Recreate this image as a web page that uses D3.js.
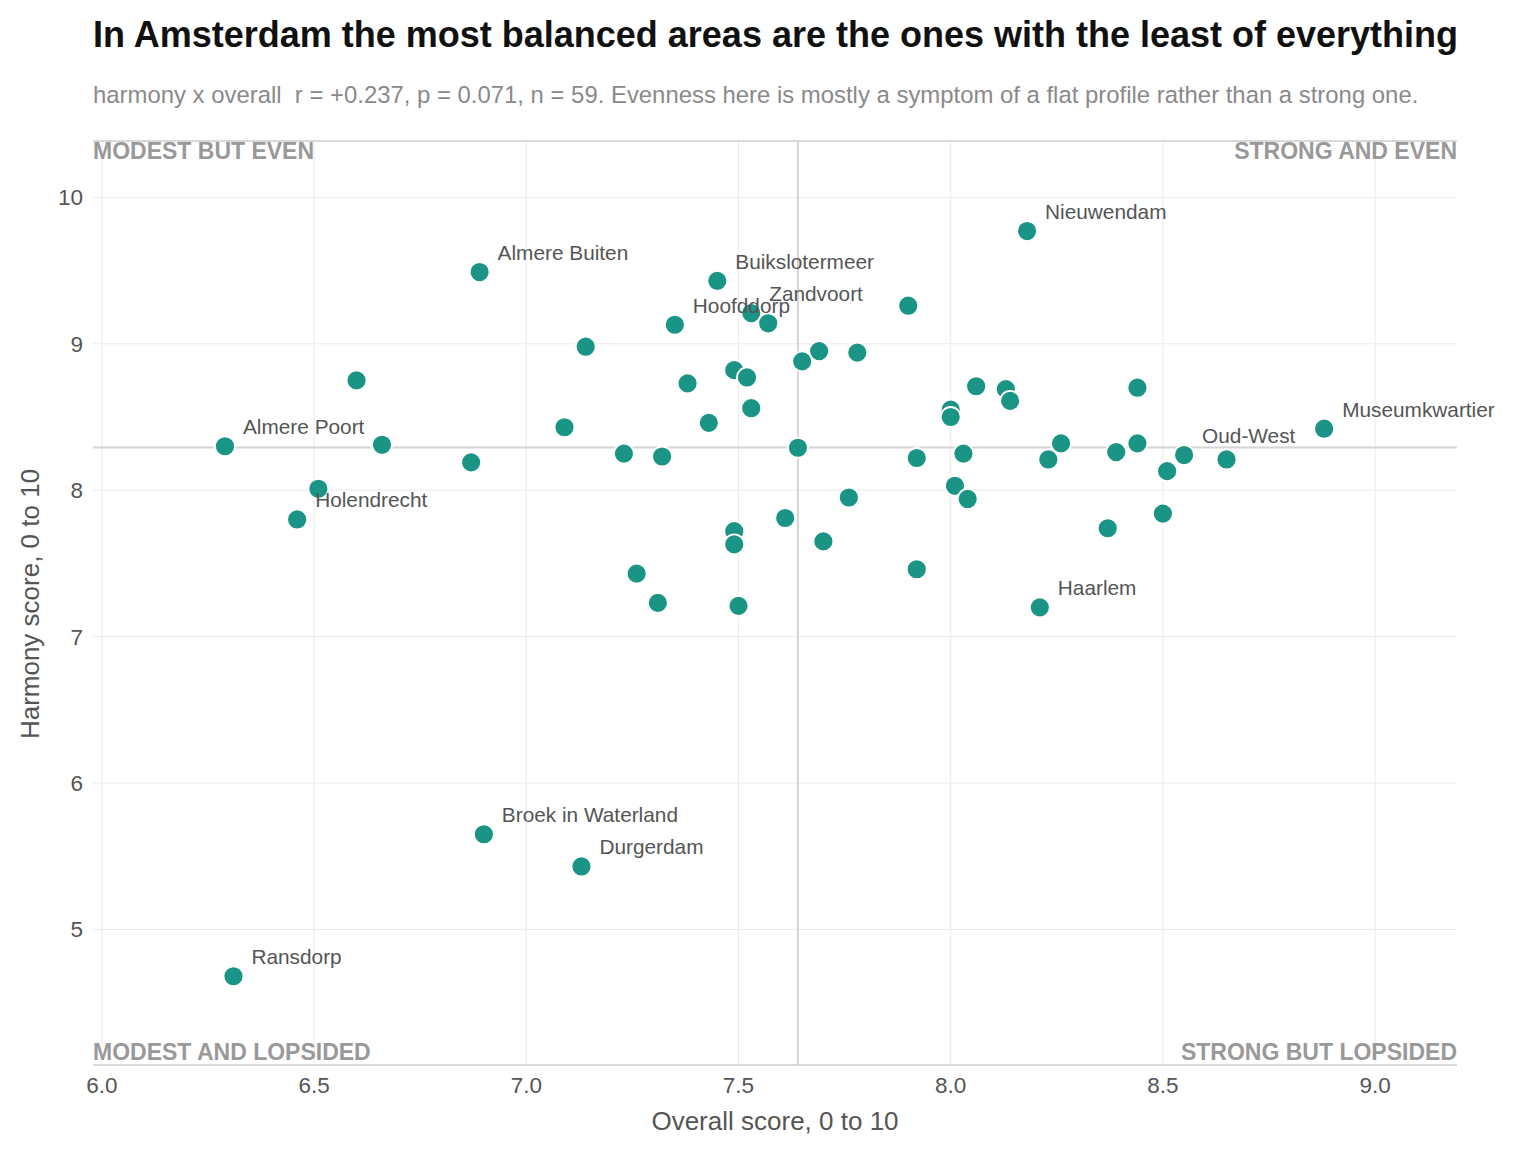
<!DOCTYPE html>
<html><head><meta charset="utf-8">
<script src="https://cdn.jsdelivr.net/npm/d3@7"></script>
<style>body{margin:0;background:#fff;font-family:"Liberation Sans",Arial,sans-serif}</style>
</head><body><svg id="c" width="1516" height="1154"></svg>
<script>
const names=["Nieuwendam","Almere Buiten","Buikslotermeer","","Zandvoort","Hoofddorp","","","","","","","","","","","","","","","","","Museumkwartier","","","Almere Poort","","","","","","","","","","","","Oud-West","","","","Holendrecht","","","","","","","","","","","","","","Haarlem","Broek in Waterland","Durgerdam","Ransdorp"];
const overall=[8.18,6.89,7.45,7.90,7.53,7.35,7.57,7.14,7.69,7.78,7.65,6.60,7.38,7.49,7.52,7.53,8.06,8.13,8.14,8.44,8.00,8.00,8.88,7.09,7.43,6.29,6.66,7.23,7.32,7.64,6.87,7.92,8.03,8.26,8.23,8.39,8.44,8.55,8.51,8.65,6.51,6.46,8.01,8.04,7.76,8.50,8.37,7.61,7.49,7.49,7.70,7.26,7.92,7.31,7.50,8.21,6.90,7.13,6.31];
const harmony=[9.77,9.49,9.43,9.26,9.21,9.13,9.14,8.98,8.95,8.94,8.88,8.75,8.73,8.82,8.77,8.56,8.71,8.69,8.61,8.70,8.55,8.50,8.42,8.43,8.46,8.30,8.31,8.25,8.23,8.29,8.19,8.22,8.25,8.32,8.21,8.26,8.32,8.24,8.13,8.21,8.01,7.80,8.03,7.94,7.95,7.84,7.74,7.81,7.72,7.63,7.65,7.43,7.46,7.23,7.21,7.20,5.65,5.43,4.68];
const xTicks=[6.0,6.5,7.0,7.5,8.0,8.5,9.0];
const yTicks=[5,6,7,8,9,10];
const quadrants=["MODEST BUT EVEN","STRONG AND EVEN","MODEST AND LOPSIDED","STRONG BUT LOPSIDED"];

const svg=d3.select("#c");
const L=93,R=1457,T=141,B=1065;
const x=d3.scaleLinear().domain([5.979,9.193]).range([L,R]);
const y=d3.scaleLinear().domain([10.385,4.074]).range([T,B]);

svg.append("text").attr("x",93).attr("y",47).attr("font-size","36px").attr("font-weight","bold").attr("fill","#111").text("In Amsterdam the most balanced areas are the ones with the least of everything");
svg.append("text").attr("x",93).attr("y",103).attr("font-size","23.9px").attr("fill","#8a8a8a").attr("xml:space","preserve").text("harmony x overall  r = +0.237, p = 0.071, n = 59. Evenness here is mostly a symptom of a flat profile rather than a strong one.");

const g=svg.append("g");
g.selectAll(".hg").data(yTicks).join("line").attr("x1",L).attr("x2",R).attr("y1",d=>y(d)).attr("y2",d=>y(d)).attr("stroke","#ebebeb");
g.selectAll(".vg").data(xTicks).join("line").attr("y1",T).attr("y2",B).attr("x1",d=>x(d)).attr("x2",d=>x(d)).attr("stroke","#ebebeb");
g.append("line").attr("x1",L).attr("x2",R).attr("y1",T).attr("y2",T).attr("stroke","#ccc").attr("stroke-width",1.5);
g.append("line").attr("x1",L).attr("x2",R).attr("y1",B).attr("y2",B).attr("stroke","#ccc").attr("stroke-width",1.5);
g.append("line").attr("x1",x(7.64)).attr("x2",x(7.64)).attr("y1",T).attr("y2",B).attr("stroke","#d4d4d4").attr("stroke-width",2);
g.append("line").attr("x1",L).attr("x2",R).attr("y1",y(8.292)).attr("y2",y(8.292)).attr("stroke","#d4d4d4").attr("stroke-width",2);

const qs=[[L,159,"start"],[R,159,"end"],[L,1060,"start"],[R,1060,"end"]];
quadrants.forEach((q,i)=>svg.append("text").attr("x",qs[i][0]).attr("y",qs[i][1]).attr("text-anchor",qs[i][2]).attr("font-size","23px").attr("font-weight","bold").attr("fill","#999").text(q));

svg.selectAll(".xt").data(xTicks).join("text").attr("x",d=>x(d)).attr("y",1093).attr("text-anchor","middle").attr("font-size","22.5px").attr("fill","#555").text(d=>d.toFixed(1));
svg.selectAll(".yt").data(yTicks).join("text").attr("x",83).attr("y",d=>y(d)+8).attr("text-anchor","end").attr("font-size","22.5px").attr("fill","#555").text(d=>d);
svg.append("text").attr("x",775).attr("y",1130).attr("text-anchor","middle").attr("font-size","26px").attr("fill","#555").text("Overall score, 0 to 10");
svg.append("text").attr("transform","translate(39,604) rotate(-90)").attr("text-anchor","middle").attr("font-size","26px").attr("fill","#555").text("Harmony score, 0 to 10");

const idx=d3.range(overall.length);
svg.selectAll(".pt").data(idx).join("circle").attr("cx",i=>x(overall[i])).attr("cy",i=>y(harmony[i])).attr("r",10).attr("fill","#1a9585").attr("stroke","#fff").attr("stroke-width",1.8);
svg.selectAll(".lb").data(idx.filter(i=>names[i])).join("text").attr("x",i=>x(overall[i])+18).attr("y",i=>y(harmony[i])-12).attr("font-size","20.8px").attr("fill","#555").text(i=>names[i]);
</script></body></html>
